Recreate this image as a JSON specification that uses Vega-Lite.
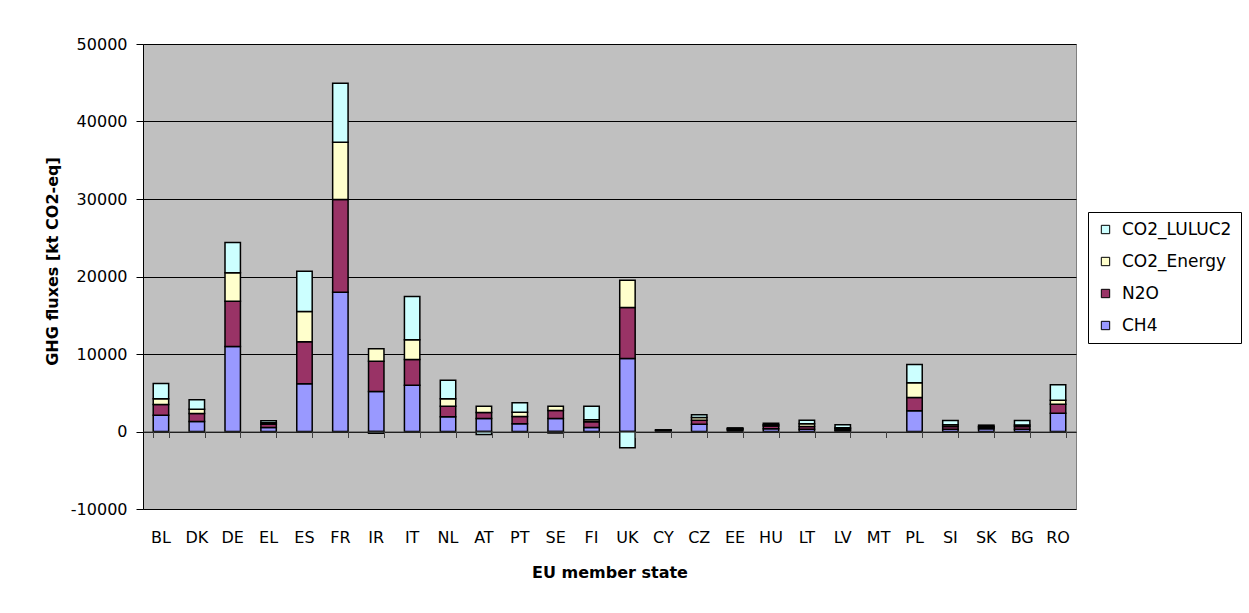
{
  "$schema": "https://vega.github.io/schema/vega-lite/v6.json",
  "autosize": {"type": "none"},
  "padding": {"left": 143, "top": 44, "right": 173, "bottom": 104},
  "width": 933,
  "height": 465,
  "background": "#ffffff",
  "config": {
    "view": {"fill": "#C0C0C0", "stroke": "#808080", "strokeWidth": 1},
    "axis": {"labelFont": "DejaVu Sans", "labelFontSize": 16, "labelColor": "#000000", "titleFont": "DejaVu Sans", "titleFontSize": 16, "titleFontWeight": "bold", "titleColor": "#000000"}
  },
  "data": {"values": [
    {"c":"BL","g":"CH4","v":2100,"k":1},{"c":"BL","g":"N2O","v":1380,"k":2},{"c":"BL","g":"CO2_Energy","v":740,"k":3},{"c":"BL","g":"CO2_LULUC2","v":1970,"k":4},
    {"c":"DK","g":"CH4","v":1290,"k":1},{"c":"DK","g":"N2O","v":1030,"k":2},{"c":"DK","g":"CO2_Energy","v":560,"k":3},{"c":"DK","g":"CO2_LULUC2","v":1210,"k":4},
    {"c":"DE","g":"CH4","v":10970,"k":1},{"c":"DE","g":"N2O","v":5840,"k":2},{"c":"DE","g":"CO2_Energy","v":3670,"k":3},{"c":"DE","g":"CO2_LULUC2","v":3910,"k":4},
    {"c":"EL","g":"CH4","v":520,"k":1},{"c":"EL","g":"N2O","v":420,"k":2},{"c":"EL","g":"CO2_Energy","v":180,"k":3},{"c":"EL","g":"CO2_LULUC2","v":260,"k":4},
    {"c":"ES","g":"CH4","v":6150,"k":1},{"c":"ES","g":"N2O","v":5420,"k":2},{"c":"ES","g":"CO2_Energy","v":3910,"k":3},{"c":"ES","g":"CO2_LULUC2","v":5200,"k":4},
    {"c":"FR","g":"CH4","v":17970,"k":1},{"c":"FR","g":"N2O","v":11960,"k":2},{"c":"FR","g":"CO2_Energy","v":7400,"k":3},{"c":"FR","g":"CO2_LULUC2","v":7610,"k":4},
    {"c":"IR","g":"CH4","v":5160,"k":1},{"c":"IR","g":"N2O","v":3910,"k":2},{"c":"IR","g":"CO2_Energy","v":1600,"k":3},{"c":"IR","g":"CO2_LULUC2","v":-220,"k":4},
    {"c":"IT","g":"CH4","v":5970,"k":1},{"c":"IT","g":"N2O","v":3320,"k":2},{"c":"IT","g":"CO2_Energy","v":2540,"k":3},{"c":"IT","g":"CO2_LULUC2","v":5590,"k":4},
    {"c":"NL","g":"CH4","v":1890,"k":1},{"c":"NL","g":"N2O","v":1380,"k":2},{"c":"NL","g":"CO2_Energy","v":950,"k":3},{"c":"NL","g":"CO2_LULUC2","v":2400,"k":4},
    {"c":"AT","g":"CH4","v":1680,"k":1},{"c":"AT","g":"N2O","v":770,"k":2},{"c":"AT","g":"CO2_Energy","v":820,"k":3},{"c":"AT","g":"CO2_LULUC2","v":-390,"k":4},
    {"c":"PT","g":"CH4","v":990,"k":1},{"c":"PT","g":"N2O","v":950,"k":2},{"c":"PT","g":"CO2_Energy","v":550,"k":3},{"c":"PT","g":"CO2_LULUC2","v":1210,"k":4},
    {"c":"SE","g":"CH4","v":1680,"k":1},{"c":"SE","g":"N2O","v":1030,"k":2},{"c":"SE","g":"CO2_Energy","v":560,"k":3},{"c":"SE","g":"CO2_LULUC2","v":-200,"k":4},
    {"c":"FI","g":"CH4","v":520,"k":1},{"c":"FI","g":"N2O","v":730,"k":2},{"c":"FI","g":"CO2_Energy","v":260,"k":3},{"c":"FI","g":"CO2_LULUC2","v":1760,"k":4},
    {"c":"UK","g":"CH4","v":9420,"k":1},{"c":"UK","g":"N2O","v":6580,"k":2},{"c":"UK","g":"CO2_Energy","v":3520,"k":3},{"c":"UK","g":"CO2_LULUC2","v":-2100,"k":4},
    {"c":"CY","g":"CH4","v":100,"k":1},{"c":"CY","g":"N2O","v":60,"k":2},{"c":"CY","g":"CO2_Energy","v":40,"k":3},{"c":"CY","g":"CO2_LULUC2","v":20,"k":4},
    {"c":"CZ","g":"CH4","v":940,"k":1},{"c":"CZ","g":"N2O","v":520,"k":2},{"c":"CZ","g":"CO2_Energy","v":340,"k":3},{"c":"CZ","g":"CO2_LULUC2","v":350,"k":4},
    {"c":"EE","g":"CH4","v":200,"k":1},{"c":"EE","g":"N2O","v":130,"k":2},{"c":"EE","g":"CO2_Energy","v":40,"k":3},{"c":"EE","g":"CO2_LULUC2","v":100,"k":4},
    {"c":"HU","g":"CH4","v":350,"k":1},{"c":"HU","g":"N2O","v":350,"k":2},{"c":"HU","g":"CO2_Energy","v":170,"k":3},{"c":"HU","g":"CO2_LULUC2","v":200,"k":4},
    {"c":"LT","g":"CH4","v":300,"k":1},{"c":"LT","g":"N2O","v":350,"k":2},{"c":"LT","g":"CO2_Energy","v":340,"k":3},{"c":"LT","g":"CO2_LULUC2","v":470,"k":4},
    {"c":"LV","g":"CH4","v":150,"k":1},{"c":"LV","g":"N2O","v":200,"k":2},{"c":"LV","g":"CO2_Energy","v":150,"k":3},{"c":"LV","g":"CO2_LULUC2","v":360,"k":4},
    {"c":"PL","g":"CH4","v":2670,"k":1},{"c":"PL","g":"N2O","v":1720,"k":2},{"c":"PL","g":"CO2_Energy","v":1890,"k":3},{"c":"PL","g":"CO2_LULUC2","v":2370,"k":4},
    {"c":"SI","g":"CH4","v":300,"k":1},{"c":"SI","g":"N2O","v":350,"k":2},{"c":"SI","g":"CO2_Energy","v":210,"k":3},{"c":"SI","g":"CO2_LULUC2","v":560,"k":4},
    {"c":"SK","g":"CH4","v":340,"k":1},{"c":"SK","g":"N2O","v":200,"k":2},{"c":"SK","g":"CO2_Energy","v":100,"k":3},{"c":"SK","g":"CO2_LULUC2","v":180,"k":4},
    {"c":"BG","g":"CH4","v":300,"k":1},{"c":"BG","g":"N2O","v":350,"k":2},{"c":"BG","g":"CO2_Energy","v":200,"k":3},{"c":"BG","g":"CO2_LULUC2","v":570,"k":4},
    {"c":"RO","g":"CH4","v":2370,"k":1},{"c":"RO","g":"N2O","v":1150,"k":2},{"c":"RO","g":"CO2_Energy","v":520,"k":3},{"c":"RO","g":"CO2_LULUC2","v":1980,"k":4}
  ]},
  "layer": [
    {
      "mark": {"type": "bar", "stroke": "#000000", "strokeWidth": 1.5},
      "encoding": {
        "x": {"field": "c", "type": "nominal",
              "scale": {"domain": ["BL","DK","DE","EL","ES","FR","IR","IT","NL","AT","PT","SE","FI","UK","CY","CZ","EE","HU","LT","LV","MT","PL","SI","SK","BG","RO"], "paddingInner": 0.57, "paddingOuter": 0.285},
              "axis": {"orient": "bottom", "title": "EU member state", "labelAngle": 0, "ticks": false, "domain": false, "grid": false, "labelPadding": 28, "labelBaseline": "middle", "titleBaseline": "middle", "titleY": 63}},
        "y": {"field": "v", "type": "quantitative", "stack": "zero",
              "scale": {"domain": [-10000, 50000], "nice": false},
              "axis": {"title": "GHG fluxes [kt CO2-eq]", "values": [-10000, 0, 10000, 20000, 30000, 40000, 50000], "labelExpr": "'' + datum.value", "grid": true, "gridColor": "#000000", "gridWidth": 1, "gridOpacity": 1, "domainColor": "#000000", "tickColor": "#000000", "tickSize": 7, "labelPadding": 9, "titleX": -91, "titleY": 217, "titleBaseline": "middle", "titleAlign": "center", "titleAngle": -90}},
        "color": {"field": "g", "type": "nominal",
                  "scale": {"domain": ["CO2_LULUC2", "CO2_Energy", "N2O", "CH4"], "range": ["#CCFFFF", "#FFFFCC", "#993366", "#9999FF"]},
                  "legend": {"title": null, "orient": "none", "legendX": 945, "legendY": 168, "fillColor": "#ffffff", "strokeColor": "#000000", "padding": 9, "rowPadding": 14, "symbolType": "square", "symbolSize": 70, "symbolStrokeColor": "#000000", "symbolStrokeWidth": 1, "labelFont": "DejaVu Sans", "labelFontSize": 17, "labelColor": "#000000", "labelOffset": 8}},
        "order": {"field": "k", "type": "quantitative", "sort": "ascending"}
      }
    },
    {
      "mark": {"type": "point", "opacity": 0},
      "encoding": {
        "x": {"field": "c", "type": "nominal",
              "axis": {"orient": "bottom", "title": null, "labels": false, "ticks": true, "tickBand": "extent", "tickSize": 6, "tickColor": "#404040", "domain": true, "domainColor": "#404040", "grid": false, "offset": -77.5, "zindex": 1}},
        "y": {"datum": 0, "type": "quantitative"}
      }
    }
  ],
  "resolve": {"axis": {"x": "independent"}}
}
